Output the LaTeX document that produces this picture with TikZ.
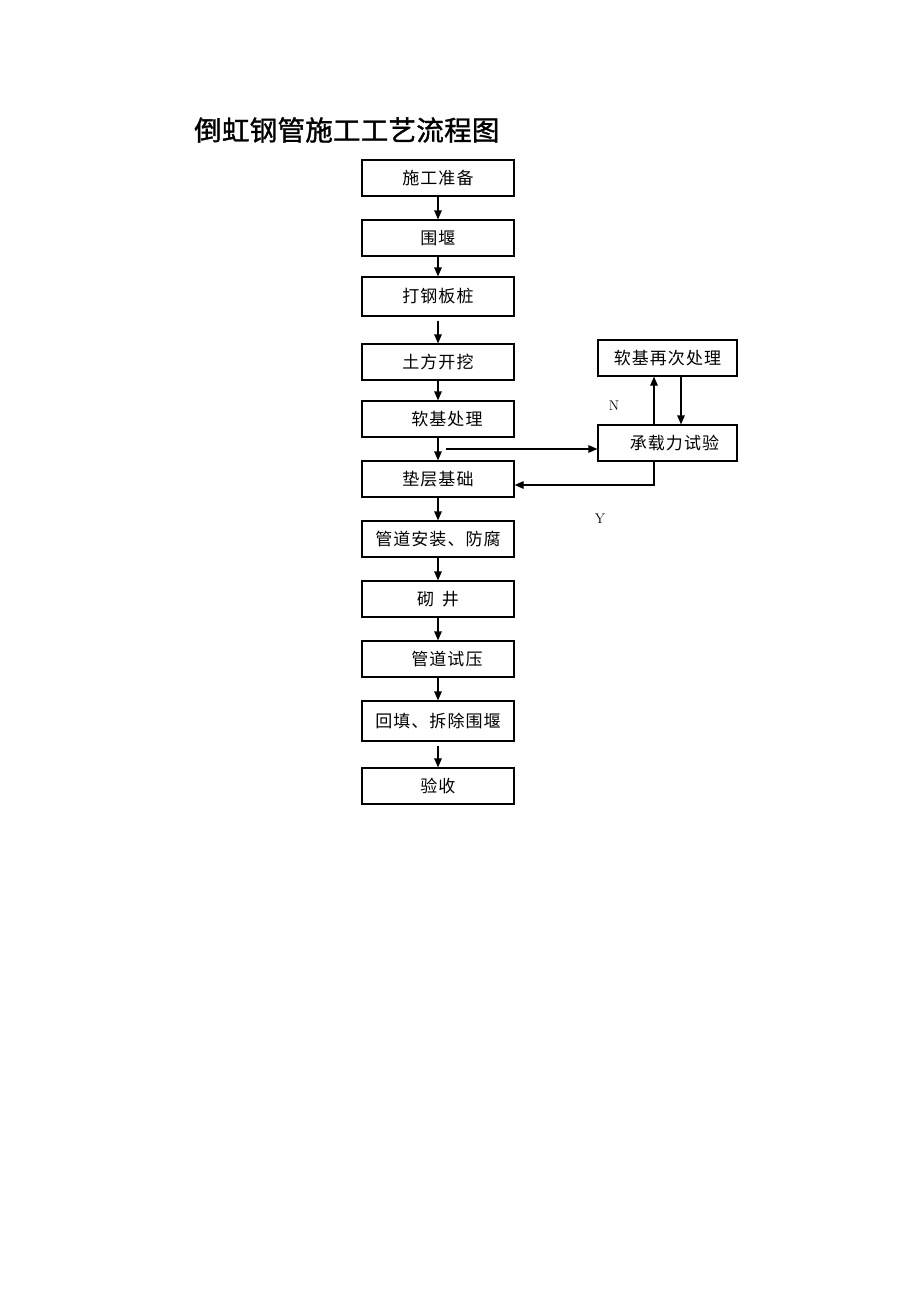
\documentclass[tikz,border=0pt]{standalone}
\usepackage{fontspec}
\newfontfamily\cjk[LetterSpace=6]{Noto Sans CJK SC}
\newfontfamily\cjkt[FakeBold=1.2, LetterSpace=1]{Noto Sans CJK SC}
\usetikzlibrary{arrows.meta,positioning}
\tikzset{
  box/.style={draw, line width=1.2pt, minimum width=152pt, minimum height=36pt, inner sep=0pt,
    font=\cjk\fontsize{17}{17}\selectfont},
  rbox/.style={box, minimum width=139pt},
  arr/.style={line width=1.2pt, -{Triangle[length=9pt,width=7.5pt]}},
  yn/.style={font=\fontsize{14}{14}\selectfont, inner sep=0pt}
}
\begin{document}
\begin{tikzpicture}[x=1pt,y=-1pt]
\useasboundingbox[fill=white] (0,0) rectangle (920,1302);
\node[anchor=west, inner sep=0pt, font=\cjkt\fontsize{27.5}{27.5}\selectfont] (title) at (194,130) {倒虹钢管施工工艺流程图};
\node[box] (b1) at (438,178) {施工准备};
\node[box] (b2) at (438,238) {围堰};
\node[box, minimum height=39pt] (b3) at (438,296.5) {打钢板桩};
\node[box] (b4) at (438,362) {土方开挖};
\node[box] (b5) at (438,419) {\hspace{18pt}软基处理};
\node[box] (b6) at (438,479) {垫层基础};
\node[box] (b7) at (438,539) {管道安装、防腐};
\node[box] (b8) at (438,599) {砌\hspace{8pt}井\hspace{10pt}};
\node[box] (b9) at (438,659) {\hspace{18pt}管道试压};
\node[box, minimum height=40pt] (b10) at (438,721) {回填、拆除围堰};
\node[box] (b11) at (438,786) {验收};
\node[rbox] (r1) at (667.5,358) {软基再次处理\hspace{4pt}};
\node[rbox] (r2) at (667.5,443) {\hspace{14pt}承载力试验};
\node[yn] (n) at (614,406) {N};
\node[yn] (y) at (600,519) {Y};
\coordinate (c1) at (446,449);
\coordinate (yr) at (654,485);
\coordinate (dx) at (681,400);
\draw[arr] (b1) -- (b2);
\draw[arr] (b2) -- (b3);
\draw[arr, shorten <=4pt] (b3) -- (b4);
\draw[arr] (b4) -- (b5);
\draw[arr] (b5) -- (b6);
\draw[arr] (b6) -- (b7);
\draw[arr] (b7) -- (b8);
\draw[arr] (b8) -- (b9);
\draw[arr] (b9) -- (b10);
\draw[arr, shorten <=4pt] (b10) -- (b11);
\draw[arr] (c1) -- (c1 -| r2.west);
\draw[arr] (r2.south -| yr) -- (yr) -- (yr -| b6.east);
\draw[arr] (r2.north -| yr) -- (r1.south -| yr);
\draw[arr] (r1.south -| dx) -- (r2.north -| dx);
\end{tikzpicture}
\end{document}
